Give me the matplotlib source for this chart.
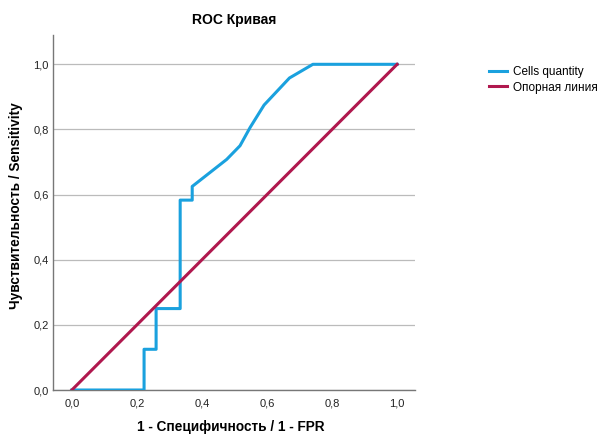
import matplotlib
matplotlib.use("Agg")
import matplotlib.pyplot as plt
from matplotlib.ticker import FuncFormatter

plt.rcParams['font.family'] = ['Liberation Sans', 'DejaVu Sans']

# --- data ---
fpr = [0.0, 0.222, 0.222, 0.259, 0.259, 0.333, 0.333, 0.370, 0.370,
       0.476, 0.517, 0.548, 0.591, 0.669, 0.741, 1.0]
tpr = [0.0, 0.0, 0.125, 0.125, 0.25, 0.25, 0.583, 0.583, 0.625,
       0.708, 0.75, 0.806, 0.875, 0.958, 1.0, 1.0]
ref_x = [0.0, 1.0]
ref_y = [0.0, 1.0]
ticks = [0.0, 0.2, 0.4, 0.6, 0.8, 1.0]

fig = plt.figure(figsize=(5.98, 4.36), dpi=100)
ax = fig.add_axes([53 / 598, 1 - 390 / 436, (415 - 53) / 598, (390 - 35) / 436])

ax.plot(fpr, tpr, color='#1AA1DE', linewidth=2.2, label='Cells quantity', zorder=3)
ax.plot(ref_x, ref_y, color='#B0184E', linewidth=2.2, label='Опорная линия', zorder=3)

ax.set_xlim(-0.058, 1.055)
ax.set_ylim(0, 1.09)
ax.set_xticks(ticks)
ax.set_yticks(ticks)
fmt = FuncFormatter(lambda v, p: f"{v:.1f}".replace('.', ','))
ax.xaxis.set_major_formatter(fmt)
ax.yaxis.set_major_formatter(fmt)
ax.tick_params(length=0, labelsize=8, colors='#222222')
ax.tick_params(axis='x', pad=6)
ax.tick_params(axis='y', pad=3)
ax.yaxis.grid(True, color='#BBBBBB', linewidth=0.9)
ax.set_axisbelow(True)
for s in ('top', 'right'):
    ax.spines[s].set_visible(False)
for s in ('left', 'bottom'):
    ax.spines[s].set_color('#777777')
    ax.spines[s].set_linewidth(1.0)

ax.set_title('ROC Кривая', fontsize=10, fontweight='bold', pad=8)
ax.set_xlabel('1 - Специфичность / 1 - FPR', fontsize=9.8, fontweight='bold', va='center')
ax.set_ylabel('Чувствительность / Sensitivity', fontsize=9.8, fontweight='bold')
ax.xaxis.set_label_coords(0.492, -0.104)
ax.yaxis.set_label_coords(-0.083, 0.518)

fig.legend(loc='upper left', bbox_to_anchor=(489 / 598, 1 - 66 / 436), frameon=False,
           fontsize=8.5, handlelength=1.5, handletextpad=0.5, borderaxespad=0,
           borderpad=0, labelspacing=0.3)

fig.savefig('out.png', dpi=100)
